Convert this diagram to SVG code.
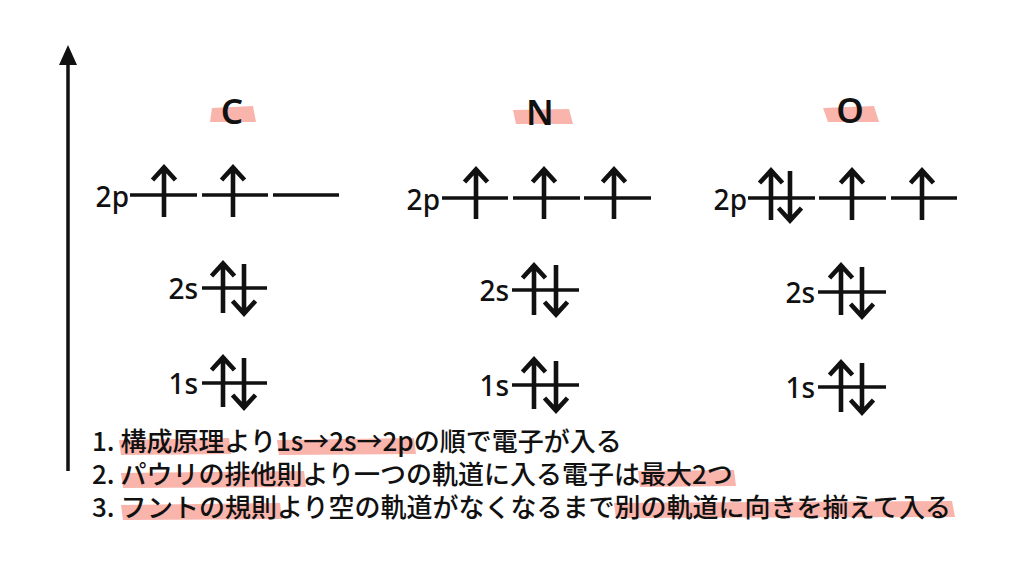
<svg xmlns="http://www.w3.org/2000/svg" width="1024" height="576" viewBox="0 0 1024 576">
<defs>
<style>
.lvl{stroke:#111;stroke-width:3.4;fill:none}
.arr{stroke:#111;stroke-width:4.6;fill:none;stroke-linejoin:miter}
.lab{font-family:"Noto Sans","Noto Sans CJK JP",sans-serif;font-size:28px;font-weight:500;fill:#111;text-anchor:end}
.el{font-family:"Noto Sans","Noto Sans CJK JP",sans-serif;font-size:35px;font-weight:600;fill:#111;text-anchor:middle}
.hl{fill:#f8aca3;opacity:0.9}
.rule{font-family:"Noto Sans CJK JP","Noto Sans",sans-serif;font-size:26px;font-weight:500;fill:#111}
</style>
<path id="up" d="M0,1 V51 M-11.5,14 L0,1.5 L11.5,14"/>
<path id="dn" d="M0,0 V50 M-11.5,37 L0,49.5 L11.5,37"/>
</defs>
<rect width="1024" height="576" fill="#fff"/>

<g id="axis">
<line x1="68" y1="471" x2="68" y2="60" stroke="#111" stroke-width="3.5"/>
<polygon points="68,45 59,65 77,65" fill="#111"/>
</g>

<g id="highlights">
<polygon class="hl" points="212,108 253,106 256,122 210,122"/>
<polygon class="hl" points="513,110 569,109 573,124 516,124"/>
<polygon class="hl" points="823,108 874,106 879,122 828,122"/>
<polygon class="hl" points="119,440 229,438 231,454 121,455"/>
<polygon class="hl" points="277,440 414,438 416,454 279,455"/>
<polygon class="hl" points="121,473 304,471 306,487 123,488"/>
<polygon class="hl" points="638,471 734,470 736,486 640,487"/>
<polygon class="hl" points="121,505 280,503 282,519 123,520"/>
<polygon class="hl" points="614,503 952,501 955,517 616,518"/>
</g>

<g id="carbon">
<text class="el" x="232" y="124">C</text>
<text class="lab" x="129" y="207">2p</text>
<path class="lvl" d="M130,195 H197 M202,195 H268 M273,195 H339"/>
<use href="#up" class="arr" x="164" y="166"/>
<use href="#up" class="arr" x="233" y="166"/>
<text class="lab" x="198" y="299">2s</text>
<path class="lvl" d="M202,288 H267"/>
<use href="#up" class="arr" x="223" y="262"/>
<use href="#dn" class="arr" x="244" y="264"/>
<text class="lab" x="198" y="394">1s</text>
<path class="lvl" d="M202,383 H267"/>
<use href="#up" class="arr" x="223" y="356"/>
<use href="#dn" class="arr" x="244" y="358"/>
</g>

<g id="nitrogen">
<text class="el" x="540" y="125">N</text>
<text class="lab" x="440" y="210">2p</text>
<path class="lvl" d="M442,198 H508 M513,198 H580 M584,198 H651"/>
<use href="#up" class="arr" x="476" y="168"/>
<use href="#up" class="arr" x="544" y="168"/>
<use href="#up" class="arr" x="614" y="168"/>
<text class="lab" x="509" y="301">2s</text>
<path class="lvl" d="M512,290 H579"/>
<use href="#up" class="arr" x="534" y="264"/>
<use href="#dn" class="arr" x="556" y="265"/>
<text class="lab" x="509" y="396">1s</text>
<path class="lvl" d="M512,385 H579"/>
<use href="#up" class="arr" x="534" y="358"/>
<use href="#dn" class="arr" x="556" y="361"/>
</g>

<g id="oxygen">
<text class="el" x="850" y="123">O</text>
<text class="lab" x="747" y="210">2p</text>
<path class="lvl" d="M748,198 H815 M819,198 H886 M891,198 H957"/>
<use href="#up" class="arr" x="771" y="169"/>
<use href="#dn" class="arr" x="790" y="171"/>
<use href="#up" class="arr" x="852" y="169"/>
<use href="#up" class="arr" x="922" y="169"/>
<text class="lab" x="815" y="303">2s</text>
<path class="lvl" d="M818,292 H886"/>
<use href="#up" class="arr" x="841" y="264"/>
<use href="#dn" class="arr" x="862" y="267"/>
<text class="lab" x="815" y="398">1s</text>
<path class="lvl" d="M818,387 H886"/>
<use href="#up" class="arr" x="841" y="361"/>
<use href="#dn" class="arr" x="862" y="363"/>
</g>

<g id="rules">
<text class="rule" x="92" y="451">1. 構成原理より1s→2s→2pの順で電子が入る</text>
<text class="rule" x="92" y="484">2. パウリの排他則より一つの軌道に入る電子は最大2つ</text>
<text class="rule" x="92" y="517">3. フントの規則より空の軌道がなくなるまで別の軌道に向きを揃えて入る</text>
</g>
</svg>
